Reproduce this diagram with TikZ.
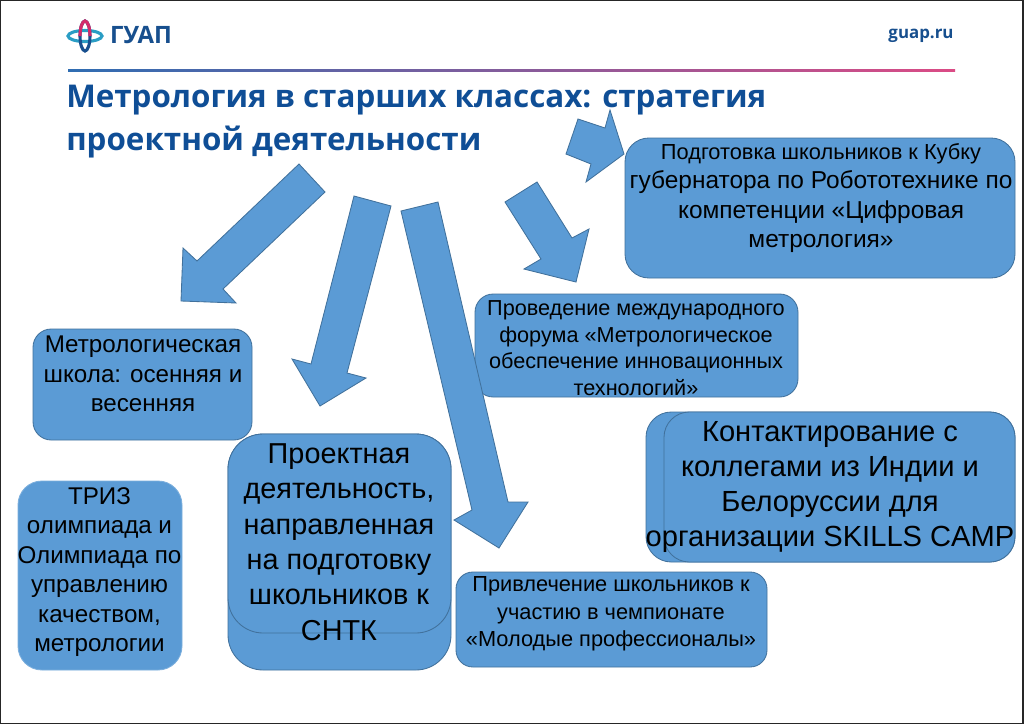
\documentclass[tikz,border=0pt]{standalone}
\usepackage{fontspec}
\setmainfont{Liberation Sans}
\newfontfamily\titlefont{Open Sans}[BoldFont={Open Sans Bold}]
\definecolor{boxblue}{HTML}{5B9BD5}
\definecolor{boxline}{HTML}{41719C}
\definecolor{titleblue}{HTML}{0F4E96}
\definecolor{logoblue}{HTML}{174F8E}
\definecolor{logoteal}{HTML}{2A9DC4}
\definecolor{logopink}{HTML}{D42A6A}
\definecolor{rulepink}{HTML}{DB4B85}
\definecolor{ruleblue}{HTML}{2F6DB2}
\tikzset{
  blockarrow/.style={fill=boxblue,draw=boxline,line width=0.6pt,line join=miter},
  blockbox/.style={fill=boxblue,draw=boxline,line width=0.6pt},
  boxtext/.style={align=center,inner sep=0pt,text=black},
}
\newcommand{\boxfont}[2]{\fontsize{#1}{#2}\selectfont}
\begin{document}
\begin{tikzpicture}[x=0.025cm,y=-0.025cm]
    \useasboundingbox (0,0) rectangle (1024,724);
    \fill[white] (0,0) rectangle (1024,724);
    \draw[line width=1pt,black!85] (0.7,0.7) rectangle (1023,723.3);
% header
    \draw[line width=2.2pt,logoteal] (85,36) ellipse (17 and 5.5);
    \draw[line width=2.2pt,logoblue] (85,36) ellipse (5 and 15);
    \draw[line width=2.2pt,logopink] (80,36) arc (180:360:5 and 15);
    \node[font=\titlefont\bfseries\fontsize{17}{17}\selectfont,text=logoblue,inner sep=0pt] (logotext) at (141,35.5) {ГУАП};
    \node[font=\titlefont\bfseries\fontsize{12}{12}\selectfont,text=logoblue,inner sep=0pt] (siteaddr) at (921,36) {guap.ru};
    \shade[left color=ruleblue,right color=rulepink] (68,69) rectangle (955,71.5);
    \node[font=\titlefont\bfseries\fontsize{22.3}{30.5}\selectfont,text=titleblue,align=left,inner sep=0pt,anchor=north west] (title) at (66,85) {Метрология в старших классах: стратегия\\проектной деятельности};
% boxes
    \draw[blockbox,rounded corners=13pt] (33,329) rectangle (252,440);
    \draw[blockbox,draw=boxblue!80!white,rounded corners=17pt] (18,481) rectangle (182,670);
    \draw[blockbox,rounded corners=25pt] (228,434) rectangle (451,670);
    \draw[blockbox,rounded corners=25pt] (228,434) rectangle (451,633);
    \draw[blockbox,rounded corners=12pt] (456,572) rectangle (767,667);
    \draw[blockbox,rounded corners=13pt] (475,294) rectangle (798,397);
    \draw[blockbox,rounded corners=17pt] (625,138) rectangle (1015,278);
    \draw[blockbox,rounded corners=18pt] (646,412) rectangle (1015,562);
    \draw[blockbox,rounded corners=18pt] (664,412) rectangle (1015,562);
% arrows
    \draw[blockarrow] (299,164) -- (325,192) -- (223,289) -- (236,303) -- (181,301) -- (183,248) -- (197,261) -- cycle;
    \draw[blockarrow] (354,196) -- (391,206) -- (347,373) -- (366,378) -- (320,406) -- (292,359) -- (311,364) -- cycle;
    \draw[blockarrow] (401,211) -- (438,202) -- (508,502) -- (528,502) -- (499,548) -- (454,520) -- (472,510) -- cycle;
    \draw[blockarrow] (537,182) -- (572,238) -- (589,229) -- (576,282) -- (524,269) -- (541,259) -- (505,202) -- cycle;
    \draw[blockarrow] (578,119) -- (605,128) -- (610,110) -- (624,154) -- (586,182) -- (591,164) -- (566,154) -- cycle;
% texts
    \node[boxtext,font=\boxfont{17.2}{20.8}] (schooltext) at (143,374) {Метрологическая\\школа: осенняя и\\весенняя};
    \node[boxtext,font=\boxfont{17.2}{21}] (triztext) at (99.5,572) {ТРИЗ\\олимпиада и\\Олимпиада по\\управлению\\качеством,\\метрологии};
    \node[boxtext,font=\boxfont{20.5}{25.1}] (projecttext) at (339,542) {Проектная\\деятельность,\\направленная\\на подготовку\\школьников к\\СНТК};
    \node[boxtext,font=\boxfont{15.5}{19.6}] (championtext) at (611,614) {Привлечение школьников к\\участию в чемпионате\\«Молодые профессионалы»};
    \node[boxtext,font=\boxfont{15.4}{18.9}] (forumtext) at (636,348) {Проведение международного\\форума «Метрологическое\\обеспечение инновационных\\технологий»};
    \node[boxtext,font=\boxfont{17.4}{20.8}] (cuptext) at (821,198) {{\fontsize{15.5}{20.8}\selectfont Подготовка школьников к Кубку}\\губернатора по Робототехнике по\\компетенции «Цифровая\\метрология»};
    \node[boxtext,font=\boxfont{20.7}{25}] (contacttext) at (830,487) {Контактирование с\\коллегами из Индии и\\Белоруссии для\\организации SKILLS CAMP};
\end{tikzpicture}
\end{document}
